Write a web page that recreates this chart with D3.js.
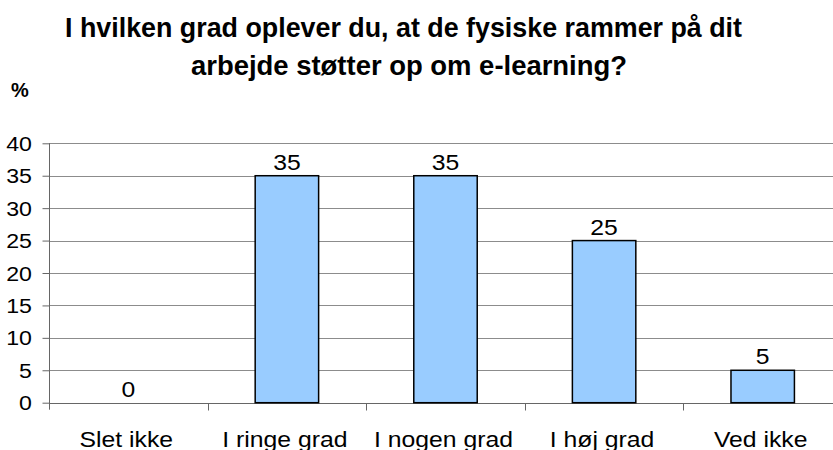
<!DOCTYPE html>
<html><head><meta charset="utf-8">
<script src="https://cdn.jsdelivr.net/npm/d3@7"></script>
<style>body{margin:0;background:#fff}svg{display:block}</style>
</head><body>
<script>
const categories = ["Slet ikke","I ringe grad","I nogen grad","I høj grad","Ved ikke"];
const values = [0,35,35,25,5];
const yTicks = [0,5,10,15,20,25,30,35,40];
const titleLines = ["I hvilken grad oplever du, at de fysiske rammer på dit","arbejde støtter op om e-learning?"];
const yLabel = "%";

const W=833,H=450;
const svg=d3.select("body").append("svg").attr("width",W).attr("height",H);
const font="Liberation Sans, Arial, sans-serif";
const x=d3.scaleBand().domain(categories).range([49,842]).padding(0);
const y=d3.scaleLinear().domain([0,40]).range([402.7,143.3]);

// gridlines
svg.append("g").selectAll("line").data(yTicks.filter(d=>d>0)).join("line")
  .attr("x1",49).attr("x2",W).attr("y1",d=>Math.round(y(d))+0.5).attr("y2",d=>Math.round(y(d))+0.5)
  .attr("stroke","#8c8c8c").attr("stroke-width",1);

// y axis
const ya=svg.append("g").attr("transform","translate(49.5,0)")
  .call(d3.axisLeft(y).tickValues(yTicks).tickSize(7).tickFormat(()=>""));
ya.select(".domain").remove();
ya.append("line").attr("y1",y(40)).attr("y2",y(0)+7).attr("stroke","#666");
ya.selectAll(".tick line").attr("stroke","#666");
svg.append("g").selectAll("text").data(yTicks).join("text")
  .attr("transform",d=>`translate(32,${y(d)+7.5}) scale(1.13,1)`)
  .attr("text-anchor","end").attr("font-family",font).attr("font-size",20.5).text(d=>d);

// x axis
const xa=svg.append("g").attr("transform",`translate(0,${Math.round(y(0))+0.5})`);
xa.append("line").attr("x1",49).attr("x2",W).attr("stroke","#666");
xa.selectAll("line.t").data(categories.slice(1)).join("line").attr("class","t")
  .attr("x1",d=>Math.round(x(d))+0.5).attr("x2",d=>Math.round(x(d))+0.5).attr("y1",0).attr("y2",7).attr("stroke","#666");
svg.append("g").selectAll("text").data(categories).join("text")
  .attr("transform",d=>`translate(${x(d)+x.bandwidth()/2-2},446.5) scale(1.1,1)`)
  .attr("text-anchor","middle").attr("font-family",font).attr("font-size",22.5).text(d=>d);

// bars
const bw=x.bandwidth()*0.4;
svg.append("g").selectAll("rect").data(categories.map((c,i)=>({c,v:values[i]})).filter(d=>d.v>0)).join("rect")
  .attr("x",d=>x(d.c)+x.bandwidth()/2-bw/2).attr("width",bw)
  .attr("y",d=>y(d.v)).attr("height",d=>y(0)-y(d.v))
  .attr("fill","#99ccff").attr("stroke","#000").attr("stroke-width",1.5);

// value labels
svg.append("g").selectAll("text").data(categories.map((c,i)=>({c,v:values[i]}))).join("text")
  .attr("transform",d=>`translate(${x(d.c)+x.bandwidth()/2},${y(d.v)-6}) scale(1.15,1)`)
  .attr("text-anchor","middle").attr("font-family",font).attr("font-size",21.5).text(d=>d.v);

// title
const tl=[[65,742],[191,627]];
svg.append("g").selectAll("text").data(titleLines).join("text")
  .attr("x",(d,i)=>tl[i][0]).attr("y",(d,i)=>i===0?36.7:75)
  .attr("font-family",font).attr("font-weight","bold").attr("font-size",27.5)
  .attr("textLength",(d,i)=>tl[i][1]-tl[i][0]).attr("lengthAdjust","spacingAndGlyphs").text(d=>d);

svg.append("text").attr("x",11).attr("y",97).attr("font-family",font).attr("font-weight","bold")
  .attr("font-size",20).text(yLabel);
</script>
</body></html>
